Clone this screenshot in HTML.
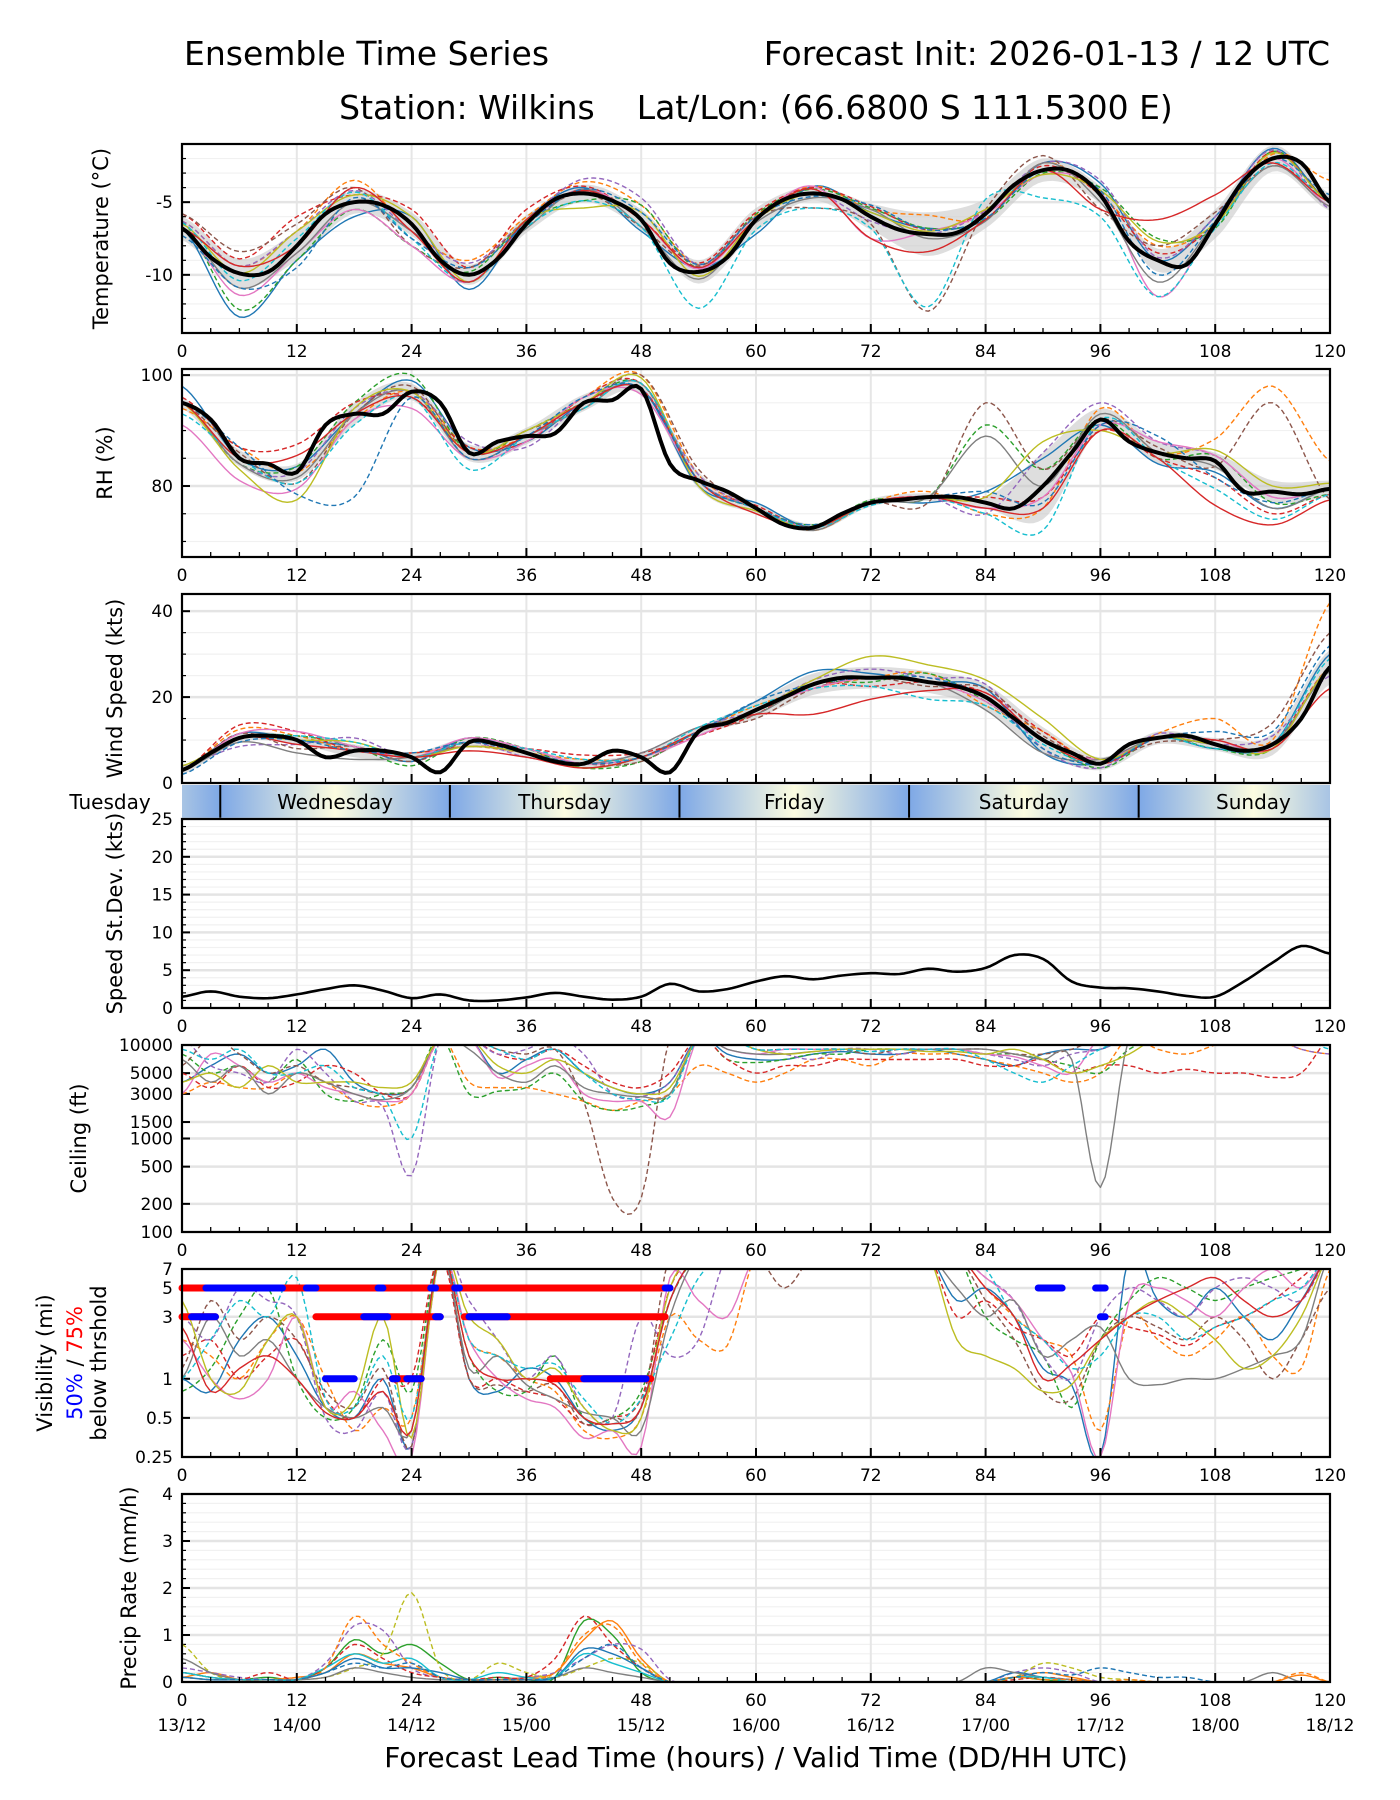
<!DOCTYPE html>
<html><head><meta charset="utf-8"><style>
html,body{margin:0;padding:0;background:#fff}
svg{display:block}
text{font-family:"DejaVu Sans","Liberation Sans",sans-serif;fill:#000}
</style></head><body>
<svg id="chart" width="1400" height="1800" viewBox="0 0 1400 1800" xmlns="http://www.w3.org/2000/svg">
<defs>
<linearGradient id="dayGrad" x1="0" x2="1" y1="0" y2="0">
<stop offset="0" stop-color="#7ea8e6"/><stop offset="0.5" stop-color="#fcfce0"/><stop offset="1" stop-color="#7ea8e6"/>
</linearGradient>
</defs>
<text x="184" y="65" font-size="33">Ensemble Time Series</text>
<text x="1330" y="65" font-size="33" text-anchor="end">Forecast Init: 2026-01-13 / 12 UTC</text>
<text x="756" y="119" font-size="33" text-anchor="middle">Station: Wilkins&#160;&#160;&#160;&#160;Lat/Lon: (66.6800 S 111.5300 E)</text>
<text x="756" y="1767" font-size="28" text-anchor="middle">Forecast Lead Time (hours) / Valid Time (DD/HH UTC)</text>
<g id="plots"></g>
</svg>
<script>
// ---------------- data ----------------
const hours3 = []; for (let i = 0; i <= 40; i++) hours3.push(i * 3);
const hours6 = []; for (let i = 0; i <= 20; i++) hours6.push(i * 6);
const xTickLabels = ["0","12","24","36","48","60","72","84","96","108","120"];
const dateLabels = ["13/12","14/00","14/12","15/00","15/12","16/00","16/12","17/00","17/12","18/00","18/12"];
const dayNames = ["Tuesday","Wednesday","Thursday","Friday","Saturday","Sunday"];
const dayStarts = [-20,4,28,52,76,100];

const tempMean = [-6.8,-8.8,-9.9,-9.8,-8,-5.8,-5,-5.2,-6.5,-9,-10,-8.9,-6.5,-4.8,-4.4,-4.9,-6.2,-9.2,-9.8,-8.8,-6.2,-4.8,-4.4,-4.8,-6,-6.9,-7.2,-7.1,-5.8,-3.8,-2.8,-2.9,-4.5,-7.7,-9,-9.3,-6.5,-3.5,-2,-2.3,-5];
const tempSpread = [0.8,1,1,0.8,0.8,0.7,0.6,0.6,0.7,0.8,0.8,0.5,0.9,1.5,1,0.8,0.6,0.8,1,0.9,0.6];
const tempOff0 = [0,-3,-1,-1,0.5,-1,0.3,0.4,-0.8,0.3,-1,0.5,0.3,0.4,-0.4,0.5,0.8,0,0.5,0.7,0];
const tempOff1 = [0.5,0.5,1,1.5,-0.5,1,0.5,0.8,1,0.5,0.3,0.5,0.5,1.3,-0.3,0.5,0,1,0,0.3,1.5];
const tempOff2 = [0.5,-2.5,-1,-0.5,-1.5,0.2,0.2,-0.5,1,0.3,0.4,0.3,0.6,0.4,-0.4,-0.2,0.5,1.5,-0.3,0.5,0];
const tempOff3 = [1,1,2,0.5,1,0.5,1,0.5,0,0.6,0.5,0.4,0.7,0.3,0.2,0.3,0,0.5,0,0.5,0];
const tempOff4 = [0.5,0.5,1,0.8,-0.5,0.8,0.3,1,1.5,0.5,0.2,0,-0.3,0,0.2,0.5,1,0.2,0.5,0.6,-0.5];
const tempOff5 = [1,1.5,1.5,1,-1.5,0.5,0.2,0,-0.5,0.4,0.2,-1,-0.5,-5.3,0.3,1,-1,1,0.8,-0.5,0.3];
const tempOff6 = [0,-1.5,-0.5,-0.5,-1.5,-0.5,0,0.3,0,0.2,0,0.5,-1.5,0.2,0,-0.3,0.2,-2.5,0,0,-0.3];
const tempOff7 = [0,-1,-0.5,0,-0.5,0,-0.3,0.3,-0.5,-0.5,-0.2,-0.3,0.5,-0.3,-0.5,0.5,-0.5,-1.5,0,-0.5,-0.3];
const tempOff8 = [0.3,0,1,0.5,0.5,-0.5,0.3,-1,0.5,-0.3,0,0,0.3,0.2,0.3,-0.3,0.3,1.3,0,0.4,0];
const tempOff9 = [0.4,-0.5,0.5,0.7,-1,-0.5,-0.2,-0.5,-0.5,-2.5,-0.7,-1,-0.8,-5,1,-1.9,-1.5,-2.5,-0.3,-0.3,0];
const tempOff10 = [0,0.5,0,1,-0.5,-0.5,0.3,0.2,0,0.3,0,0.3,-1.5,-1.2,-0.4,0,-1,2.8,2,-0.3,0];
const tempOff11 = [-0.5,-1,-1.5,0.3,-1,0.5,0,0.3,0.5,0.5,0.2,-0.2,0.8,0.3,-0.3,0,0.3,-1,0.2,0,0.5];

const rhMean = [95,92,85,84,82.5,91,93,93,97,95,86,88,89,89.5,95,95.5,97.5,84,81,79,76,73,72.5,75,77,77.5,78,78,77,76,80,86,92,88,86,85,84.5,79,79,78.5,79.5];
const rhSpread = [1,1.5,1.5,2,1.5,1.5,1.5,1.5,1,1.5,1,0.7,0.7,0.7,1,6,2,2,1.5,2,1.5];
const rhOff0 = [3,0,1,0,2,1,-1,0,0,-1,1,0,0,-1,2,5,-1,-2,-2,-3,0];
const rhOff1 = [-1,2,0,-1,0,1,0,1,4,1,0,-0.5,0,1,-2,-4,2,0,4,19,5];
const rhOff2 = [0,-1,1,2,3,0,1,0,1,0,0,0.5,0.5,0,14,3,0,-1,1,-2,-1];
const rhOff3 = [1,2,5,2,-1,1,-1,1,1,0,0.5,0,0,0,1,-2,-2,-1,-3,-4,-1];
const rhOff4 = [0,-1,0,1,0,2,-2,0,0,1,0,0,0,0,-2,6,3,2,1,-1,0];
const rhOff5 = [0,1,-2,0,1,0,1,-1,3,2,0,0,0,-1,18,3,0,1,-1,16,-2];
const rhOff6 = [-4,-4,-3,-1,-3,-1,-1,1,-1,0,0,0,0,0,-1,-2,-1,2,1,-1,0];
const rhOff7 = [0,-1,-1,0,0,-1,0,-1,1,0,0,-0.5,0,0,12,0,1,0,-1,-3,0];
const rhOff8 = [0,-2,-5,1,0,0,1,0,2,-1,-0.5,0,0,0,1,8,-2,0,2,1,1];
const rhOff9 = [-2,0,-2,-2,-1,-3,0,-1,1,0,0,0,-0.5,0,-2,-8,0,-1,-5,-5,-1];
const rhOff10 = [0,0,3,0,-1,0,0,0,0,0,-1,0,0,0,-1,-4,-2,-1,-8,-6,-2];
const rhOff11 = [0,2,-4,-15,-1,-1,0,1,0,0,0,0.5,0,0,2,-3,-1,3,-3,-2,0];

const windMean = [3,7,10.5,11,10,6,7.5,7.5,6,2.5,9.5,9,7,5,4.5,7.5,6,2.5,12,14,17,20,23,24.5,24.5,24.5,23.5,22.5,20,15,10,7,4.5,9,10.5,11,9,7.5,9,15,27];
const windSpread = [1,1,1,1.5,1,1,1,1,1,1,2,2.5,2.5,2.5,3,3,1.5,1.5,1.5,2.5,4];
const windOff0 = [0,1,0,1,-1,1,0,-1,0,0,2,3,1,0,2,-3,0,0,-1,0,3];
const windOff1 = [0,2,1,0,1,-1,0,1,0,0,1,-1,0,2,-2,2,0,1,6,1,15];
const windOff2 = [1,0,1,1,-2,1,1,-1,-1,0,-1,0,-1,2,-1,0,-1,0,-1,-1,0];
const windOff3 = [0,3,2,0,1,-1,1,2,1,-1,-1,0,-2,0,1,2,0,0,0,0,0];
const windOff4 = [1,-2,-1,3,0,0,-1,0,1,1,0,1,2,1,3,-2,-1,1,0,2,-2];
const windOff5 = [0,1,-2,1,-1,0,0,0,-1,0,-2,-1,0,-1,2,1,1,-1,1,5,8];
const windOff6 = [0,1,2,1,0,1,1,0,0,-1,0,-1,0,0,-1,0,1,0,1,-1,0];
const windOff7 = [0,-1,-3,-2,0,-1,0,0,1,1,-1,0,0,0,-3,-3,1,0,0,0,-1];
const windOff8 = [1,0,0,2,0,-1,0,-1,0,0,0,1,5,4,4,5,1,0,0,-1,0];
const windOff9 = [0,0,1,2,0,0,1,1,0,1,1,-1,-2,-4,-2,-1,0,0,-1,0,2];
const windOff10 = [0,0,-1,0,0,-2,-1,-1,0,0,-1,-7,-5,-2,1,0,0,0,1,-1,-5];
const windOff11 = [-1,-1,0,0,1,0,0,0,0,0,2,0,0,1,0,-2,0,0,3,3,5];

const sdValues = [1.5,2.2,1.5,1.3,1.8,2.5,3,2.3,1.3,1.8,1,1,1.4,2,1.5,1.1,1.5,3.2,2.2,2.5,3.5,4.2,3.8,4.3,4.6,4.5,5.2,4.8,5.3,7,6.5,3.5,2.7,2.6,2.2,1.6,1.5,3.5,6,8.2,7.2];

const ceil0 = [4000,6000,8000,5000,6000,9000,4000,3000,3500,12000,12000,5000,7000,9000,5000,3500,3000,4000,12000,8000,7000,7000,8000,8500,8000,8000,9000,8000,7000,6000,8000,9000,9000,12000,12000,12000,12000,12000,12000,12000,12000];
const ceil1 = [3000,4000,3500,3500,5000,4000,2500,2200,3000,12000,4000,3500,3500,3000,2500,2000,2500,3000,6000,5000,4000,5000,7000,7000,6000,8000,8000,8000,7000,6000,5000,4000,5000,12000,9000,8000,10000,12000,12000,9000,8000];
const ceil2 = [8000,5000,6000,4000,7000,3000,2500,3000,3500,12000,3000,3200,3500,5000,2500,2000,2200,3000,12000,7000,6500,7000,8000,8000,9000,9000,9000,9000,8000,8000,7000,6000,5000,9000,12000,12000,12000,12000,12000,12000,12000];
const ceil3 = [5000,3500,6000,3500,4000,6000,5000,3000,3000,12000,12000,8000,7000,9000,6000,4000,3500,5000,12000,7000,5000,6000,6000,7000,7000,7000,7000,7000,6000,6000,7000,5000,6000,6000,5000,5500,5000,5000,4500,5000,12000];
const ceil4 = [12000,6000,5000,4000,9000,5000,2500,2200,400,12000,12000,8000,9000,12000,8000,3000,2800,4000,12000,12000,9000,8000,7000,9000,9000,8000,9000,9000,8000,7000,6000,8000,9000,12000,12000,12000,12000,12000,12000,9000,8000];
const ceil5 = [6000,12000,8000,5000,6000,4000,3500,3000,3500,12000,12000,9000,8000,9000,2500,230,230,12000,12000,12000,9000,9000,9000,9000,8000,9000,9000,9000,9000,8000,8000,9000,12000,12000,12000,12000,12000,12000,12000,12000,12000];
const ceil6 = [3000,8000,6000,4000,5000,3500,3000,2500,3000,12000,12000,4500,6000,7000,3000,2500,2500,1700,12000,9000,8000,9000,9000,9000,9000,9000,9000,9000,8000,7500,6000,5000,12000,12000,12000,12000,12000,12000,12000,12000,12000];
const ceil7 = [7000,4000,6000,3000,5000,4000,3000,2600,3500,12000,9000,5000,4000,6000,3500,3000,2800,3000,12000,9000,8000,8000,8500,9000,9000,9000,9000,9000,9000,8000,7000,7000,300,12000,12000,12000,12000,12000,12000,12000,12000];
const ceil8 = [4000,5000,3500,6000,4000,4000,4000,3500,4000,12000,12000,6000,5000,7000,5000,3500,3000,3500,12000,12000,9000,8000,8500,9000,9000,9000,8500,8500,8000,9000,7000,5000,6000,8000,12000,12000,12000,12000,12000,12000,12000];
const ceil9 = [9000,7000,9000,5000,5000,6000,3500,2800,1000,12000,12000,9000,7000,9000,5000,3000,2600,2800,12000,12000,9000,9000,9000,9000,8500,9000,9000,9000,7000,5000,4000,6000,9000,12000,12000,12000,12000,12000,12000,12000,9000];

const vis0 = [1,0.8,2,3,1.5,0.6,0.5,1,0.3,9,1,0.8,1.2,1,0.5,0.4,0.6,4,9,9,9,9,9,9,9,9,9,4,5,3,1.2,0.9,0.25,9,4,3,5,3,2,4,9];
const vis1 = [2,1.5,1,2,3,1,0.4,0.6,0.5,9,2,1.5,1,0.8,0.4,0.35,0.5,3,2,1.8,9,9,9,9,9,9,9,9,5,3,2,1.5,0.4,3,2,1.5,2,3,1.5,1.2,7];
const vis2 = [0.8,1.2,3,5,1,0.5,0.6,2,0.8,9,1.5,0.8,0.8,1.5,0.5,0.5,0.8,4,9,9,9,9,9,9,9,9,9,9,3,2,1.5,0.6,2,4,6,5,4,5,6,7,9];
const vis3 = [1.5,2,1,1.5,2,0.7,0.5,1,1,9,1,1,0.8,0.7,0.45,0.5,0.7,5,9,9,9,9,9,9,9,9,9,3,4,2.5,2,1.5,3,2.5,2.2,1.8,2.5,3,4,6,9];
const vis4 = [3,2,5,4,3,0.5,0.4,0.8,0.3,9,4,2,1,1.5,0.6,0.5,3,1.5,2,9,9,9,9,9,9,9,9,9,6,4,1.5,1,3,5,4,3,5,6,5,4,9];
const vis5 = [1.2,4,2,3,2,0.8,0.6,1.2,0.3,9,1,0.9,0.8,0.9,0.45,0.5,0.6,9,9,9,9,5,9,9,9,9,9,9,4,2,0.8,0.7,2,3,2.5,2,3,2,1,2,5];
const vis6 = [2,1,0.7,1,3,0.6,0.8,0.4,0.25,9,2,1,0.7,0.6,0.35,0.4,0.3,6,4,3,9,9,9,9,9,9,9,9,6,4,2,1.1,0.25,4,5,4,3,5,7,5,9];
const vis7 = [1,3,1.5,2,1,0.6,0.5,0.6,0.4,9,1.2,1.5,0.9,0.7,0.55,0.5,0.4,3,9,9,9,9,9,9,9,9,9,5,3,4,1.5,2,2.5,1,0.9,1,1,1.2,1.5,2,9];
const vis8 = [4,1,0.8,2,3,0.6,0.7,3,0.35,9,3,2,1,1.2,0.6,0.4,0.5,5,9,9,9,9,9,9,9,9,9,2,1.5,1.2,0.8,0.9,2,3,4,3,2,1.2,1.5,3,9];
const vis9 = [1,2,4,3,6,0.7,0.6,1.5,0.5,9,2,1.5,1.2,1.3,0.7,0.45,0.7,2,6,9,9,9,9,9,9,9,9,9,7,3,2,1.2,1.5,3,3,2,2.5,3,4,5,9];
const vis10 = [2.5,0.8,1.2,1.5,1,0.55,0.5,0.8,0.4,9,1.5,1,1,0.9,0.5,0.45,0.6,4,9,9,9,9,9,9,9,9,9,9,5,3,1,1.3,2,3,4,5,6,4,3,4,9];
const visRed5 = [[0,51]];
const visBlue5 = [[2.5,10.5],[13,14],[20.5,21],[26,26.5],[28.5,29],[50.5,51],[89.5,92],[95.5,96.5]];
const visRed3 = [[0,3.5],[14,27],[29.5,50.5]];
const visBlue3 = [[1,3.5],[19,21.5],[26.5,27],[30,34],[96,96.5]];
const visRed1 = [[22,25],[38.5,49]];
const visBlue1 = [[15,18],[22,22.5],[23.5,25],[42,48.5]];

const pr0 = [0.2,0.1,0.05,0.1,0.05,0.3,0.9,0.6,0.8,0.4,0.05,0.1,0.05,0.1,1.3,1,0.2,0,0,0,0,0,0,0,0,0,0,0,0,0.1,0.05,0,0,0,0,0,0,0,0,0,0];
const pr1 = [0.1,0.2,0.05,0.05,0.1,0.2,0.6,0.4,0.3,0.1,0.05,0.05,0.1,0.2,0.9,1.3,0.5,0,0,0,0,0,0,0,0,0,0,0,0,0.1,0.2,0.1,0,0,0,0,0,0,0,0.15,0];
const pr2 = [0.3,0.2,0.1,0.05,0.05,0.4,1.2,1.1,0.3,0.1,0.05,0.05,0.1,0.2,0.5,0.8,0.7,0.05,0,0,0,0,0,0,0,0,0,0,0,0.2,0.3,0.2,0,0,0,0,0,0,0,0,0];
const pr3 = [0.2,0.1,0.05,0.2,0.05,0.3,0.8,0.5,0.2,0.1,0.05,0.1,0.1,0.5,1.4,0.8,0.3,0,0,0,0,0,0,0,0,0,0,0,0,0.05,0.1,0.05,0,0,0,0,0,0,0,0,0];
const pr4 = [0.8,0.2,0.05,0.05,0.05,0.1,0.3,0.6,1.9,0.3,0.05,0.4,0.2,0.1,0.3,0.5,0.4,0,0,0,0,0,0,0,0,0,0,0,0,0.1,0.4,0.3,0.1,0.05,0,0,0,0,0,0,0];
const pr5 = [0.1,0.05,0.05,0.05,0.05,0.2,0.5,0.3,0.3,0.2,0.05,0.05,0.05,0.1,0.7,0.6,0.3,0,0,0,0,0,0,0,0,0,0,0,0,0.2,0.1,0.05,0,0,0,0,0,0,0,0,0];
const pr6 = [0.5,0.2,0.05,0.05,0.05,0.1,0.3,0.2,0.1,0.05,0.05,0.05,0.05,0.1,0.3,0.2,0.1,0,0,0,0,0,0,0,0,0,0,0,0.3,0.2,0.1,0.05,0,0,0,0,0,0,0.2,0,0];
const pr7 = [0.2,0.1,0.05,0.05,0.05,0.3,0.6,0.4,0.5,0.1,0.05,0.2,0.1,0.1,0.6,0.4,0.2,0,0,0,0,0,0,0,0,0,0,0,0,0.1,0.1,0,0,0,0,0,0,0,0,0,0];
const pr8 = [0.1,0.05,0.05,0.05,0.05,0.3,1.4,0.8,0.4,0.1,0.05,0.05,0.05,0.2,1,1.2,0.4,0,0,0,0,0,0,0,0,0,0,0,0,0.1,0.05,0.05,0,0.05,0,0,0,0,0,0.2,0];
const pr9 = [0.1,0.05,0.05,0.05,0.05,0.2,0.4,0.3,0.4,0.1,0.05,0.05,0.05,0.1,0.5,0.8,0.3,0,0,0,0,0,0,0,0,0,0,0,0,0.1,0.2,0.15,0.3,0.2,0.1,0.1,0,0,0,0,0];

// ---------------- rendering ----------------
const NS = "http://www.w3.org/2000/svg";
const root = document.getElementById("plots");
const X0 = 182, X1 = 1330;
const colors = ["#1f77b4","#ff7f0e","#2ca02c","#d62728","#9467bd","#8c564b","#e377c2","#7f7f7f","#bcbd22","#17becf","#d62728","#1f77b4"];
const dashes = [false,true,true,true,true,true,false,false,false,true,false,true];
function xs(h){ return X0 + (X1 - X0) * h / 120; }
function mk(tag, attrs, parent){ const e = document.createElementNS(NS, tag); for (const k in attrs) e.setAttribute(k, attrs[k]); (parent || root).appendChild(e); return e; }
function ys(p, v){
  let t;
  if (p.log) t = (Math.log10(v) - Math.log10(p.ymin)) / (Math.log10(p.ymax) - Math.log10(p.ymin));
  else t = (v - p.ymin) / (p.ymax - p.ymin);
  return p.bot - t * (p.bot - p.top);
}
function interp(hs, vs, stepDiv, logMode){
  const out = [];
  const f = logMode ? (v => Math.log10(v)) : (v => v);
  const g = logMode ? (v => Math.pow(10, v)) : (v => v);
  const n = vs.length;
  for (let i = 0; i < n - 1; i++){
    const p0 = f(vs[Math.max(0,i-1)]), p1 = f(vs[i]), p2 = f(vs[i+1]), p3 = f(vs[Math.min(n-1,i+2)]);
    for (let s = 0; s < stepDiv; s++){
      const t = s / stepDiv;
      const v = 0.5*((2*p1) + (-p0+p2)*t + (2*p0-5*p1+4*p2-p3)*t*t + (-p0+3*p1-3*p2+p3)*t*t*t);
      out.push([hs[i] + (hs[i+1]-hs[i])*t, g(v)]);
    }
  }
  out.push([hs[n-1], vs[n-1]]);
  return out;
}
function pathD(p, pts, clampMin){
  return pts.map((q,i) => (i ? "L" : "M") + xs(q[0]).toFixed(1) + "," + ys(p, Math.max(clampMin, q[1])).toFixed(1)).join("");
}

const panels = {
  temp:{name:"temperature",top:144,bot:333,ymin:-14,ymax:-1,major:[-5,-10],minorStep:1,label:"Temperature (°C)",lx:108,xlabels:true},
  rh:{name:"rh",top:369,bot:557,ymin:67.2,ymax:101.1,major:[80,100],minorStep:5,label:"RH (%)",lx:112,xlabels:true},
  wind:{name:"wind-speed",top:594,bot:783,ymin:0,ymax:44,major:[0,20,40],minorStep:5,label:"Wind Speed (kts)",lx:122,xlabels:false},
  sd:{name:"speed-stdev",top:819,bot:1008,ymin:0,ymax:25,major:[0,5,10,15,20,25],minorStep:1,label:"Speed St.Dev. (kts)",lx:122,xlabels:true},
  ceil:{name:"ceiling",top:1045,bot:1232,ymin:100,ymax:10000,log:true,major:[100,200,500,1000,1500,3000,5000,10000],label:"Ceiling (ft)",lx:86,xlabels:true},
  vis:{name:"visibility",top:1269,bot:1457,ymin:0.25,ymax:7,log:true,major:[0.25,0.5,1,3,5,7],label:null,xlabels:true},
  precip:{name:"precip-rate",top:1494,bot:1682,ymin:0,ymax:4,major:[0,1,2,3,4],minorStep:0.2,label:"Precip Rate (mm/h)",lx:136,xlabels:true}
};

function drawFrame(p){
  const g = mk("g", {});
  
  
  p.g = g;
  if (p.minorStep){
    for (let v = Math.ceil(p.ymin/p.minorStep)*p.minorStep; v <= p.ymax + 1e-9; v += p.minorStep){
      const y = ys(p, v);
      const gl = mk("line", {x1:X0,x2:X1,y1:y,y2:y,stroke:"#f1f1f1","stroke-width":1.2}, g);
      
      
      const t = mk("line", {x1:X0,x2:X0+4,y1:y,y2:y,stroke:"#000","stroke-width":1.2}, g);
      
      
    }
  }
  for (let h = 0; h <= 120; h += 12){
    const x = xs(h);
    const vl = mk("line", {x1:x,x2:x,y1:p.top,y2:p.bot,stroke:"#e6e6e6","stroke-width":2}, g);
    
    
  }
  for (const v of p.major){
    const y = ys(p, v);
    const hl = mk("line", {x1:X0,x2:X1,y1:y,y2:y,stroke:"#e4e4e4","stroke-width":2.5}, g);
    
    
    const tk = mk("line", {x1:X0,x2:X0+8,y1:y,y2:y,stroke:"#000","stroke-width":2}, g);
    
    
    const tl = mk("text", {x:X0-9,y:y+6,"font-size":17,"text-anchor":"end"}, g);
    
    
    tl.textContent = String(v);
  }
  const clipId = "clip-" + p.name;
  const cp = mk("clipPath", {id:clipId}, g);
  mk("rect", {x:X0,y:p.top,width:X1-X0,height:p.bot-p.top}, cp);
  p.plot = mk("g", {"clip-path":"url(#" + clipId + ")"}, g);
  
  
  if (p.label){
    const lab = mk("text", {x:p.lx,y:(p.top+p.bot)/2,"font-size":21,"text-anchor":"middle",transform:"rotate(-90 " + p.lx + " " + (p.top+p.bot)/2 + ")"}, g);
    
    
    lab.textContent = p.label;
  }
}
function drawSpinesAndTicks(p){
  const g = p.g;
  for (let h = 0; h <= 120; h += 3){
    const x = xs(h), len = h % 12 === 0 ? 9 : 5;
    const tk = mk("line", {x1:x,x2:x,y1:p.bot,y2:p.bot-len,stroke:"#000","stroke-width":h%12===0?2:1.3}, g);
    
    
  }
  const fr = mk("rect", {x:X0,y:p.top,width:X1-X0,height:p.bot-p.top,fill:"none",stroke:"#000","stroke-width":2.2}, g);
  
  
  if (p.xlabels){
    xTickLabels.forEach((s,i) => {
      const t = mk("text", {x:xs(i*12),y:p.bot+24,"font-size":17,"text-anchor":"middle"}, g);
      
      
      t.textContent = s;
    });
  }
}
function drawLine(p, pts, color, dashed, width, clampMin, name){
  const e = mk("path", {d:pathD(p, pts, clampMin), fill:"none", stroke:color, "stroke-width":width, "stroke-linejoin":"round"}, p.plot);
  if (dashed) e.setAttribute("stroke-dasharray", "5,3");
  
  
  return e;
}
function ensemblePanel(p, mean, spread, offs, clampMin, clampMax){
  const up = [], lo = [];
  hours6.forEach((h,i) => { const m = mean[i*2]; up.push(m + spread[i]); lo.push(m - spread[i]); });
  const pu = interp(hours6, up, 12), pl = interp(hours6, lo, 12);
  const d = pathD(p, pu, -1e9) + pl.reverse().map(q => "L" + xs(q[0]).toFixed(1) + "," + ys(p, q[1]).toFixed(1)).join("") + "Z";
  const band = mk("path", {d:d, fill:"#c8c8c8", "fill-opacity":0.6, stroke:"none"}, p.plot);
  
  
  offs.forEach((off, k) => {
    const vals = hours6.map((h,i) => Math.min(clampMax, mean[i*2] + off[i]));
    drawLine(p, interp(hours6, vals, 12), colors[k], dashes[k], 1.4, clampMin, 'ensemble-member-' + k);
  });
  drawLine(p, interp(hours3, mean, 6), "#000", false, 4, clampMin, 'ensemble-mean');
}

drawFrame(panels.temp);
ensemblePanel(panels.temp, tempMean, tempSpread, [tempOff0,tempOff1,tempOff2,tempOff3,tempOff4,tempOff5,tempOff6,tempOff7,tempOff8,tempOff9,tempOff10,tempOff11], -100, 100);
drawSpinesAndTicks(panels.temp);

drawFrame(panels.rh);
ensemblePanel(panels.rh, rhMean, rhSpread, [rhOff0,rhOff1,rhOff2,rhOff3,rhOff4,rhOff5,rhOff6,rhOff7,rhOff8,rhOff9,rhOff10,rhOff11], 0, 100);
drawSpinesAndTicks(panels.rh);

drawFrame(panels.wind);
ensemblePanel(panels.wind, windMean, windSpread, [windOff0,windOff1,windOff2,windOff3,windOff4,windOff5,windOff6,windOff7,windOff8,windOff9,windOff10,windOff11], 0, 100);
drawSpinesAndTicks(panels.wind);

(function(){
  const g = mk("g", {});
  
  
  const top = 785, bot = 818;
  const cp = mk("clipPath", {id:"clip-band"}, g);
  mk("rect", {x:X0,y:top,width:X1-X0,height:bot-top}, cp);
  const inner = mk("g", {"clip-path":"url(#clip-band)"}, g);
  dayStarts.forEach((s,i) => {
    const r = mk("rect", {x:xs(s),y:top,width:xs(s+24)-xs(s),height:bot-top,fill:"url(#dayGrad)"}, inner);
    
    
    if (i > 0){
      const dl = mk("line", {x1:xs(s),x2:xs(s),y1:top,y2:bot,stroke:"#000","stroke-width":2}, g);
      
      
    }
    const cx = i === 0 ? 110 : xs(s + 12);
    const t = mk("text", {x:cx,y:top+24,"font-size":20,"text-anchor":"middle"}, g);
    
    
    t.textContent = dayNames[i];
  });
})();

drawFrame(panels.sd);
drawLine(panels.sd, interp(hours3, sdValues, 6), "#000", false, 2.6, 0, 'speed-stdev-line');
drawSpinesAndTicks(panels.sd);

drawFrame(panels.ceil);
[ceil0,ceil1,ceil2,ceil3,ceil4,ceil5,ceil6,ceil7,ceil8,ceil9].forEach((c,k) => {
  drawLine(panels.ceil, interp(hours3, c, 6, true), colors[k], dashes[k], 1.4, 100, 'ceiling-member-' + k);
});
drawSpinesAndTicks(panels.ceil);

drawFrame(panels.vis);
[vis0,vis1,vis2,vis3,vis4,vis5,vis6,vis7,vis8,vis9,vis10].forEach((c,k) => {
  drawLine(panels.vis, interp(hours3, c, 6, true), colors[k], dashes[k], 1.4, 0.2, 'visibility-member-' + k);
});
function segs(list, level, color, name){
  const p = panels.vis;
  list.forEach(s => {
    const l = mk("line", {x1:xs(s[0]),x2:xs(s[1]),y1:ys(p,level),y2:ys(p,level),stroke:color,"stroke-width":7,"stroke-linecap":"round"}, p.g);
    
    
  });
}
segs(visRed5, 5, "#ff0000", 'threshold-75-5mi');
segs(visBlue5, 5, "#0000ff", 'threshold-50-5mi');
segs(visRed3, 3, "#ff0000", 'threshold-75-3mi');
segs(visBlue3, 3, "#0000ff", 'threshold-50-3mi');
segs(visRed1, 1, "#ff0000", 'threshold-75-1mi');
segs(visBlue1, 1, "#0000ff", 'threshold-50-1mi');
drawSpinesAndTicks(panels.vis);
(function(){
  const cy = (panels.vis.top + panels.vis.bot)/2;
  const lines = [[52,[["Visibility (mi)","#000"]]],[82,[["50%","#0000ff"],[" / ","#000"],["75%","#ff0000"]]],[106,[["below thrshold","#000"]]]];
  lines.forEach(L => {
    const t = mk("text", {x:L[0],y:cy,"font-size":21,"text-anchor":"middle",transform:"rotate(-90 " + L[0] + " " + cy + ")"}, panels.vis.g);
    
    
    L[1].forEach(part => { const ts = mk("tspan", {fill:part[1]}, t); ts.textContent = part[0]; });
  });
})();

drawFrame(panels.precip);
[pr0,pr1,pr2,pr3,pr4,pr5,pr6,pr7,pr8,pr9].forEach((c,k) => {
  drawLine(panels.precip, interp(hours3, c, 6), ["#2ca02c","#ff7f0e","#9467bd","#d62728","#bcbd22","#1f77b4","#7f7f7f","#17becf","#ff7f0e","#1f77b4"][k], [false,false,true,true,true,false,false,false,true,true][k], 1.4, 0, 'precip-member-' + k);
});
drawSpinesAndTicks(panels.precip);
dateLabels.forEach((s,i) => {
  const t = mk("text", {x:xs(i*12),y:panels.precip.bot+49,"font-size":17,"text-anchor":"middle"});
  
  
  t.textContent = s;
});
</script>
</body></html>
